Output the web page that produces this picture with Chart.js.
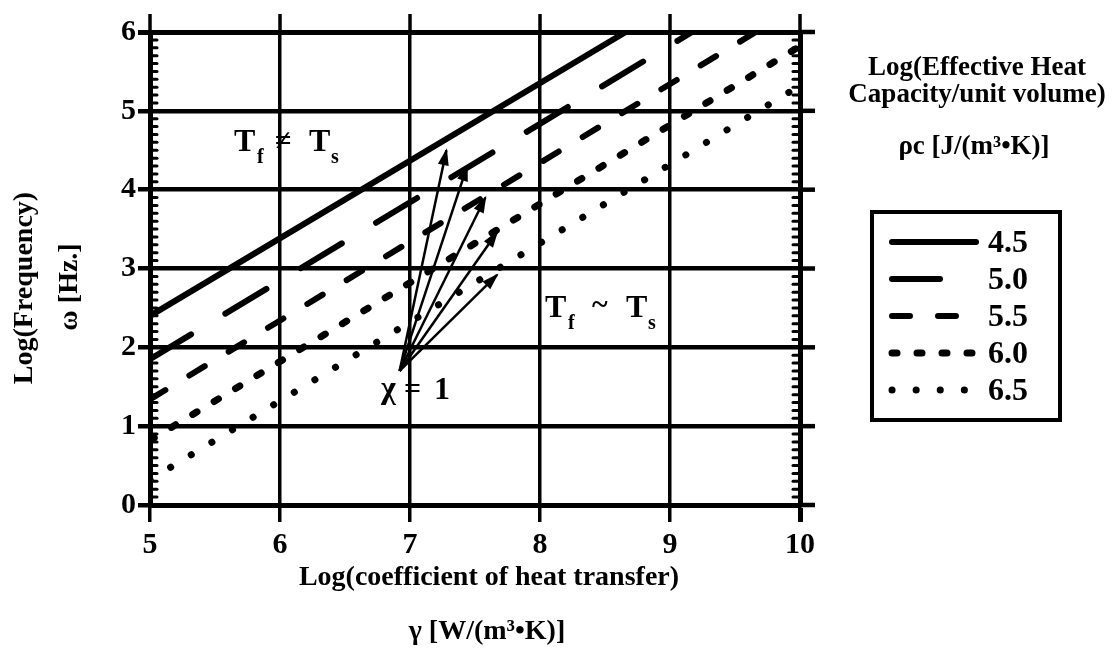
<!DOCTYPE html>
<html>
<head>
<meta charset="utf-8">
<script src="https://cdn.jsdelivr.net/npm/chart.js@4.4.1/dist/chart.umd.min.js"></script>
<style>
  html, body { margin: 0; padding: 0; background: #fff; }
  #wrap { width: 1112px; height: 659px; }
</style>
</head>
<body>
<div id="wrap"><canvas id="heat-chart" width="1112" height="659"></canvas></div>
<script>
// values, all in log10 units
const rhoC = ["4.5", "5.0", "5.5", "6.0", "6.5"];            // Log(rho c) for each line
const lineGammaStart = [5, 5, 5, 5, 5];
const lineOmegaStart = [2.4, 1.85, 1.34, 0.82, 0.32];
const lineGammaEnd = [8.66, 9.17, 9.66, 10, 10];
const lineOmegaEnd = [6, 6, 6, 5.82, 5.32];

// fan of arrows starting at chi = 1
const arrowStart = { x: 6.92, y: 1.7 };
const arrowTipGamma = [7.28, 7.44, 7.58, 7.67, 7.67];
const arrowTipOmega = [4.5, 4.3, 3.9, 3.46, 2.92];

const xTicks = [5, 6, 7, 8, 9, 10];
const yTicks = [0, 1, 2, 3, 4, 5, 6];

// line styles: solid, long dash, dash, short dash, dots
const SERIF = "'Liberation Serif', 'Times New Roman', serif";
const dashes = [[], [48, 40], [18, 28], [5, 20], [0.1, 24]];
const widths = [6, 6, 6, 7, 7];

const curveSets = rhoC.map((label, i) => ({
  label: label,
  data: [
    { x: lineGammaStart[i], y: lineOmegaStart[i] },
    { x: lineGammaEnd[i], y: lineOmegaEnd[i] },
  ],
  showLine: true,
  borderColor: "#000",
  borderWidth: widths[i],
  borderDash: dashes[i],
  borderCapStyle: "round",
  pointRadius: 0,
  pointHoverRadius: 0,
}));

const arrowSets = arrowTipGamma.map((g, i) => ({
  label: "chi" + i,
  arrow: true,
  data: [arrowStart, { x: g, y: arrowTipOmega[i] }],
  showLine: true,
  borderColor: "#000",
  borderWidth: 2.5,
  pointRadius: 0,
  pointHoverRadius: 0,
}));

function font(size) {
  return "bold " + size + "px " + SERIF;
}

function seg(ctx, x1, y1, x2, y2) {
  ctx.beginPath();
  ctx.moveTo(x1, y1);
  ctx.lineTo(x2, y2);
  ctx.stroke();
}

// text with subscripts: each piece is [text, x, baseline, size]
function pieces(ctx, list) {
  ctx.textAlign = "left";
  ctx.textBaseline = "alphabetic";
  list.forEach(([t, x, y, s]) => {
    ctx.font = font(s);
    ctx.fillText(t, x, y);
  });
}

const figureExtras = {
  id: "figureExtras",
  beforeDraw(chart) {
    const ctx = chart.ctx;
    ctx.save();
    ctx.fillStyle = "#fff";
    ctx.fillRect(0, 0, chart.width, chart.height);
    ctx.restore();
  },
  afterDraw(chart) {
    const { ctx, chartArea: a } = chart;
    const xs = chart.scales.x;
    const ys = chart.scales.y;
    ctx.save();
    ctx.strokeStyle = "#000";
    ctx.fillStyle = "#000";

    // grid stubs above the frame and to the right of it
    ctx.lineWidth = 3.5;
    xTicks.forEach((v) => {
      const px = xs.getPixelForValue(v);
      seg(ctx, px, a.top - 18, px, a.top);
    });
    ctx.lineWidth = 4.5;
    yTicks.forEach((v) => {
      const py = ys.getPixelForValue(v);
      seg(ctx, a.right, py, a.right + 15, py);
    });

    // minor ticks on both vertical edges
    ctx.lineWidth = 3;
    ctx.lineCap = "round";
    for (let k = 1; k < 60; k++) {
      if (k % 10 === 0) continue;
      const py = ys.getPixelForValue(k / 10);
      seg(ctx, a.left, py, a.left + 7, py);
      seg(ctx, a.right - 7, py, a.right, py);
    }

    // arrow heads at the tips of the chi = 1 fan
    chart.data.datasets.forEach((ds, i) => {
      if (!ds.arrow) return;
      const pts = chart.getDatasetMeta(i).data;
      const p0 = pts[0];
      const p1 = pts[1];
      const ang = Math.atan2(p1.y - p0.y, p1.x - p0.x);
      ctx.save();
      ctx.translate(p1.x, p1.y);
      ctx.rotate(ang);
      ctx.beginPath();
      ctx.moveTo(2, 0);
      ctx.lineTo(-15, -5.5);
      ctx.lineTo(-15, 5.5);
      ctx.closePath();
      ctx.fill();
      ctx.restore();
    });

    // region labels
    pieces(ctx, [
      ["T", 234, 151, 32], ["f", 257, 163, 20], ["\u2260", 275, 150, 30],
      ["T", 309, 151, 32], ["s", 331, 163, 20],
    ]);
    pieces(ctx, [
      ["T", 545, 317, 32], ["f", 568, 329, 20], ["~", 592, 314, 30],
      ["T", 626, 317, 32], ["s", 648, 329, 20],
    ]);
    pieces(ctx, [["\u03c7", 381, 398, 32], ["=", 404, 398, 30], ["1", 434, 399, 32]]);

    // axis titles
    ctx.textAlign = "center";
    ctx.textBaseline = "middle";
    ctx.font = font(28);
    ctx.fillText("Log(coefficient of heat transfer)", 489, 578);
    ctx.fillText("\u03b3 [W/(m\u00b3\u2022K)]", 487, 632);
    ctx.save();
    ctx.translate(25, 288);
    ctx.rotate(-Math.PI / 2);
    ctx.fillText("Log(Frequency)", 0, 0);
    ctx.restore();
    ctx.save();
    ctx.translate(70, 287);
    ctx.rotate(-Math.PI / 2);
    ctx.fillText("\u03c9 [Hz.]", 0, 0);
    ctx.restore();

    // legend title on the right
    ctx.font = font(27);
    ctx.fillText("Log(Effective Heat", 977, 68);
    ctx.fillText("Capacity/unit volume)", 977, 95);
    ctx.fillText("\u03c1c [J/(m\u00b3\u2022K)]", 974, 147);

    // legend box
    ctx.lineWidth = 4;
    ctx.lineCap = "butt";
    ctx.strokeRect(872, 212, 188, 208);
    ctx.textAlign = "left";
    ctx.font = font(32);
    curveSets.forEach((ds, i) => {
      const ry = 242 + i * 37;
      ctx.save();
      ctx.lineWidth = ds.borderWidth;
      ctx.lineCap = "round";
      ctx.setLineDash(ds.borderDash);
      seg(ctx, 892, ry, 976, ry);
      ctx.restore();
      ctx.fillText(ds.label, 988, ry + 2);
    });

    ctx.restore();
  },
};

const ctx = document.getElementById("heat-chart").getContext("2d");

const heatChart = new Chart(ctx, {
  type: "scatter",
  data: { datasets: curveSets.concat(arrowSets) },
  options: {
    responsive: false,
    animation: false,
    devicePixelRatio: 1,
    layout: { padding: { left: 0, top: 32, right: 312, bottom: 0 } },
    plugins: {
      legend: { display: false },
      tooltip: { enabled: false },
    },
    scales: {
      x: {
        type: "linear",
        min: 5,
        max: 10,
        afterBuildTicks: (scale) => {
          scale.ticks = xTicks.map((v) => ({ value: v }));
        },
        afterFit: (scale) => {
          scale.height = 154;
        },
        ticks: {
          color: "#000",
          padding: 5,
          font: { family: SERIF, size: 30, weight: "bold" },
        },
        grid: {
          color: "#000",
          lineWidth: (c) => (c.tick && c.tick.value === 10 ? 5 : 3.5),
          tickLength: 17,
        },
        border: { display: true, color: "#000", width: 5 },
      },
      y: {
        type: "linear",
        min: 0,
        max: 6,
        afterBuildTicks: (scale) => {
          scale.ticks = yTicks.map((v) => ({ value: v }));
        },
        afterFit: (scale) => {
          scale.width = 150;
        },
        ticks: {
          color: "#000",
          padding: 2,
          font: { family: SERIF, size: 30, weight: "bold" },
        },
        grid: {
          color: "#000",
          lineWidth: (c) => (c.tick && c.tick.value === 6 ? 5 : 4.5),
          tickLength: 12,
        },
        border: { display: true, color: "#000", width: 5 },
      },
    },
  },
  plugins: [figureExtras],
});
</script>
</body>
</html>
